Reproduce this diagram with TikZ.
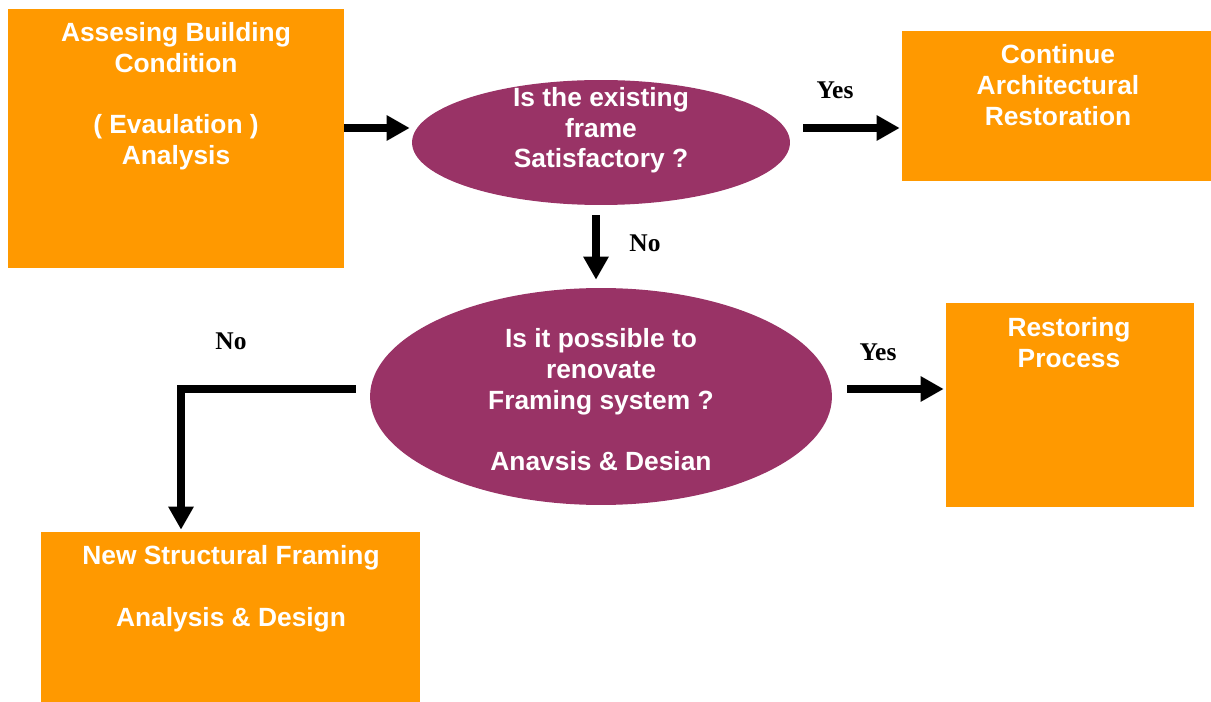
\documentclass[tikz,border=0pt]{standalone}
\usepackage{fontspec}
\setmainfont{Liberation Sans}
\newfontfamily\answerfont{Liberation Serif}
\usetikzlibrary{arrows.meta, shapes.geometric}
\definecolor{boxorange}{HTML}{FF9900}
\definecolor{ovalpurple}{HTML}{993366}

\begin{document}
\begin{tikzpicture}[
    x=0.02cm, y=-0.02cm,
    stage/.style={rectangle, fill=boxorange, inner sep=0pt},
    query/.style={ellipse, fill=ovalpurple, inner sep=0pt},
    txt/.style={anchor=north, inner sep=0pt, align=center, text=white, font=\bfseries\fontsize{15}{17.4}\selectfont},
    answer/.style={font=\answerfont\bfseries\fontsize{14.5}{17}\selectfont},
    arrow/.style={-{Triangle[length=0.46cm, width=0.48cm]}, line width=0.15cm}
]
\useasboundingbox (0,0) rectangle (1211,702);

\node[stage, minimum width=6.72cm, minimum height=5.18cm] (assess) at (176,138.5) {};
\node[query, minimum width=7.56cm, minimum height=2.5cm] (frame) at (601,142.5) {};
\node[stage, minimum width=6.18cm, minimum height=3.0cm] (cont) at (1056.5,106) {};
\node[query, minimum width=9.24cm, minimum height=4.34cm] (reno) at (601,396.5) {};
\node[stage, minimum width=4.96cm, minimum height=4.08cm] (restore) at (1070,405) {};
\node[stage, minimum width=7.58cm, minimum height=3.4cm] (newframe) at (230.5,617) {};

\node[txt] (assesstext) at (176,22.5) {Assesing Building\\Condition\\[17.4pt]( Evaulation )\\Analysis};
\node[txt] (frametext) at (601,87) {Is the existing\\frame\\Satisfactory ?};
\node[txt] (conttext) at (1058,44.5) {Continue\\Architectural\\Restoration};
\node[txt] (renotext) at (601,328.5) {Is it possible to\\renovate\\Framing system ?\\[17.4pt]Anavsis \& Desian};
\node[txt] (restoretext) at (1069,317.5) {Restoring\\Process};
\node[txt] (newframetext) at (231,545.5) {New Structural Framing\\[17.4pt]Analysis \& Design};

\node[answer] (yes1) at (835,90) {Yes};
\node[answer] (no1) at (645,243) {No};
\node[answer] (yes2) at (878,352) {Yes};
\node[answer] (no2) at (231,341) {No};

\coordinate (row1) at (0,128);
\coordinate (row2) at (0,389);

\draw[arrow, shorten >=0.04cm] (assess.east |- row1) -- (frame.west |- row1);
\draw[arrow, shorten <=0.26cm, shorten >=0.04cm] (frame.east |- row1) -- (cont.west |- row1);
\draw[arrow, shorten <=0.2cm, shorten >=0.16cm] ([xshift=-0.1cm]frame.south) -- ([xshift=-0.1cm]reno.north);
\draw[arrow, shorten <=0.3cm, shorten >=0.04cm] (reno.east |- row2) -- (restore.west |- row2);
\draw[arrow, shorten <=0.28cm, shorten >=0.04cm] (reno.west |- row2) -| ([xshift=-0.99cm]newframe.north);
\end{tikzpicture}
\end{document}
